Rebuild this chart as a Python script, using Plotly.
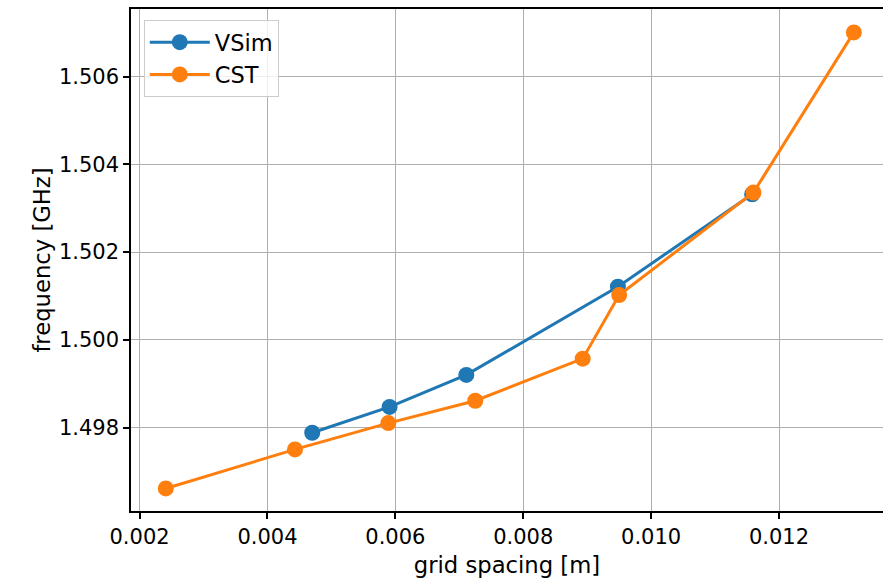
import plotly.graph_objects as go

vsim_x = [0.00470, 0.00591, 0.00711, 0.00948, 0.01158]
vsim_y = [1.49788, 1.49847, 1.49920, 1.50121, 1.50332]

cst_x = [0.00241, 0.00443, 0.00589, 0.00725, 0.00893, 0.00950, 0.01160, 0.01317]
cst_y = [1.49661, 1.49750, 1.49810, 1.49861, 1.49957, 1.50102, 1.50336, 1.50701]

x_ticks = [0.002, 0.004, 0.006, 0.008, 0.010, 0.012]
x_ticktext = ["0.002", "0.004", "0.006", "0.008", "0.010", "0.012"]
y_ticks = [1.498, 1.500, 1.502, 1.504, 1.506]
y_ticktext = ["1.498", "1.500", "1.502", "1.504", "1.506"]

FONT = "DejaVu Sans"
FS = 21
TFS = 22.7

fig = go.Figure()
fig.add_trace(go.Scatter(x=vsim_x, y=vsim_y, mode="lines+markers", name="VSim",
                         line=dict(color="#1f77b4", width=3),
                         marker=dict(color="#1f77b4", size=16)))
fig.add_trace(go.Scatter(x=cst_x, y=cst_y, mode="lines+markers", name="CST",
                         line=dict(color="#ff7f0e", width=3),
                         marker=dict(color="#ff7f0e", size=16)))

fig.update_layout(
    width=883, height=578,
    margin=dict(l=130.5, r=0, t=9, b=67, autoexpand=False),
    plot_bgcolor="white", paper_bgcolor="white",
    font=dict(family=FONT, size=FS, color="black"),
    showlegend=True,
    legend=dict(x=0.017, y=0.978, xanchor="left", yanchor="top",
                bgcolor="rgba(255,255,255,0.8)", bordercolor="#cccccc", borderwidth=1,
                tracegroupgap=0, itemwidth=60,
                font=dict(family=FONT, size=22.5)),
    xaxis=dict(range=[0.001866, 0.013626], tickvals=x_ticks, ticktext=x_ticktext,
               showgrid=True, gridcolor="#b0b0b0", gridwidth=1.3,
               showline=True, linecolor="black", linewidth=1.5, mirror=True,
               ticks="outside", ticklen=6, tickwidth=1.5, tickcolor="black",
               zeroline=False, tickfont=dict(family=FONT, size=FS),
               title=dict(text="grid spacing [m]", standoff=10,
                          font=dict(family=FONT, size=TFS))),
    yaxis=dict(range=[1.496096, 1.507544], tickvals=y_ticks, ticktext=y_ticktext,
               showgrid=True, gridcolor="#b0b0b0", gridwidth=1.3,
               showline=True, linecolor="black", linewidth=1.5,
               ticks="outside", ticklen=6, tickwidth=1.5, tickcolor="black",
               zeroline=False, tickfont=dict(family=FONT, size=FS),
               title=dict(text="frequency [GHz]", standoff=2,
                          font=dict(family=FONT, size=TFS))),
)

fig.write_html("out.html", config={"displayModeBar": False},
               post_script="document.body.style.margin='0';document.body.style.overflow='hidden';")
